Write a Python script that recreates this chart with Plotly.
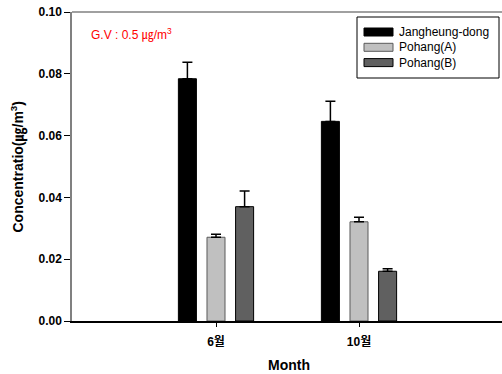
import plotly.graph_objects as go

months = ["6월", "10월"]
series_names = ["Jangheung-dong", "Pohang(A)", "Pohang(B)"]
jangheung = [0.0784, 0.0646]
pohang_a = [0.0271, 0.0321]
pohang_b = [0.0370, 0.0161]
jangheung_err = [0.0053, 0.0065]
pohang_a_err = [0.0010, 0.0015]
pohang_b_err = [0.0051, 0.0008]
y_ticks = [0.00, 0.02, 0.04, 0.06, 0.08, 0.10]

values = [jangheung, pohang_a, pohang_b]
errors = [jangheung_err, pohang_a_err, pohang_b_err]
fills = ["#000000", "#c0c0c0", "#606060"]
edges = ["#000000", "#5a5a5a", "#000000"]

FONT = "Arial, Liberation Sans, Noto Sans CJK KR, sans-serif"
W, H = 502, 374
L, R, T, B = 72, 0, 12, 53
PW, PH = W - L - R, H - T - B

def px(x):
    return (x - L) / PW

def py(y):
    return (H - B - y) / PH

xpos = list(range(len(months)))

fig = go.Figure()
for name, v, e, fc, ec in zip(series_names, values, errors, fills, edges):
    fig.add_trace(go.Bar(
        x=xpos, y=v, name=name,
        marker=dict(color=fc, line=dict(color=ec, width=1)),
        error_y=dict(type="data", symmetric=False, array=e, arrayminus=[0] * len(e),
                     color="#000000", thickness=1.5, width=5),
        showlegend=False,
    ))

# custom legend
shapes = []
annotations = []
shapes.append(dict(type="rect", xref="paper", yref="paper",
                   x0=px(357), x1=px(499), y0=py(78), y1=py(17),
                   line=dict(color="#000000", width=1), fillcolor="white", layer="above"))
for i, (name, fc, ec) in enumerate(zip(series_names, fills, edges)):
    yc = 32 + i * 15.3
    shapes.append(dict(type="rect", xref="paper", yref="paper",
                       x0=px(364), x1=px(393), y0=py(yc + 4), y1=py(yc - 4),
                       line=dict(color=ec, width=1), fillcolor=fc, layer="above"))
    annotations.append(dict(text=name, xref="paper", yref="paper", x=px(397), y=py(yc),
                            xanchor="left", yanchor="middle", showarrow=False,
                            font=dict(family=FONT, size=12, color="#000000")))

# top frame line
shapes.append(dict(type="line", xref="paper", yref="paper", x0=0, x1=1, y0=1, y1=1,
                   line=dict(color="#808080", width=1.5)))

annotations.append(dict(text="G.V : 0.5 ㎍/m<sup>3</sup>", xref="paper", yref="paper",
                        x=px(89), y=py(34), xanchor="left", yanchor="middle", showarrow=False,
                        font=dict(family=FONT, size=12, color="#ff0000")))
annotations.append(dict(text="<b>Concentratio(㎍/m<sup>3</sup>)</b>", xref="paper", yref="paper",
                        x=px(18), y=0.5, xanchor="center", yanchor="middle", textangle=-90,
                        showarrow=False, font=dict(family=FONT, size=14, color="#000000")))
annotations.append(dict(text="<b>Month</b>", xref="paper", yref="paper",
                        x=px(289), y=py(365), xanchor="center", yanchor="middle",
                        showarrow=False, font=dict(family=FONT, size=14, color="#000000")))

fig.update_layout(
    width=W, height=H,
    margin=dict(l=L, r=R, t=T, b=B, pad=0),
    paper_bgcolor="white", plot_bgcolor="white",
    barmode="group", bargap=0.4, bargroupgap=0.37,
    shapes=shapes, annotations=annotations,
    xaxis=dict(range=[-1.007, 2.0], tickvals=xpos,
               ticktext=["<b>" + m + "</b>" for m in months],
               showline=True, linecolor="#000000", linewidth=1.5,
               ticks="outside", ticklen=4, tickcolor="#000000", tickwidth=1,
               ticklabelstandoff=5,
               showgrid=False, zeroline=False,
               tickfont=dict(family=FONT, size=12, color="#000000")),
    yaxis=dict(range=[0, 0.1], tickvals=y_ticks,
               ticktext=["<b>%.2f</b>" % t for t in y_ticks],
               showline=True, linecolor="#808080", linewidth=1.5,
               ticks="outside", ticklen=6, tickcolor="#000000", tickwidth=1,
               showgrid=False, zeroline=False,
               tickfont=dict(family=FONT, size=12, color="#000000")),
)

fig.write_html("out.html")
